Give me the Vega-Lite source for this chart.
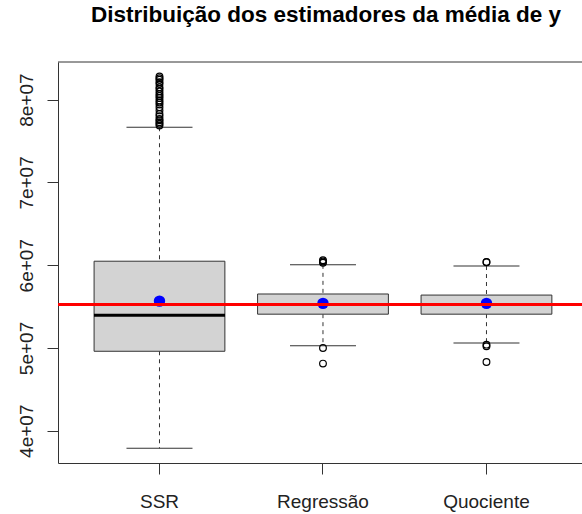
{
  "$schema": "https://vega.github.io/schema/vega-lite/v6.json",
  "width": 524,
  "height": 401,
  "autosize": {"type": "none"},
  "padding": {"left": 58, "top": 62, "right": 0, "bottom": 51},
  "background": "white",
  "title": {
    "text": "Distribuição dos estimadores da média de y",
    "font": "Liberation Sans",
    "fontSize": 22.5,
    "fontWeight": "bold",
    "color": "black",
    "anchor": "middle",
    "baseline": "alphabetic",
    "offset": 17,
    "dx": 6
  },
  "config": {
    "view": {"stroke": null},
    "axis": {
      "grid": false,
      "title": null,
      "domainColor": "#333",
      "tickColor": "#333",
      "labelColor": "#222",
      "labelFont": "Liberation Sans",
      "labelFontSize": 19,
      "tickSize": 11
    }
  },
  "datasets": {
    "caixas": [
      {"grupo": "SSR", "lim_inf": 37870000, "q1": 49600000, "mediana": 53940000, "q3": 60480000, "lim_sup": 76670000, "media": 55660000},
      {"grupo": "Regressão", "lim_inf": 50280000, "q1": 54080000, "mediana": 55265000, "q3": 56520000, "lim_sup": 60040000, "media": 55390000},
      {"grupo": "Quociente", "lim_inf": 50600000, "q1": 54080000, "mediana": 55265000, "q3": 56390000, "lim_sup": 59900000, "media": 55390000}
    ],
    "atipicos": [
      {"grupo": "SSR", "valor": 82810000},
      {"grupo": "SSR", "valor": 82600000},
      {"grupo": "SSR", "valor": 82410000},
      {"grupo": "SSR", "valor": 82100000},
      {"grupo": "SSR", "valor": 81890000},
      {"grupo": "SSR", "valor": 81500000},
      {"grupo": "SSR", "valor": 81290000},
      {"grupo": "SSR", "valor": 81000000},
      {"grupo": "SSR", "valor": 80690000},
      {"grupo": "SSR", "valor": 80450000},
      {"grupo": "SSR", "valor": 80200000},
      {"grupo": "SSR", "valor": 79900000},
      {"grupo": "SSR", "valor": 79670000},
      {"grupo": "SSR", "valor": 79400000},
      {"grupo": "SSR", "valor": 79070000},
      {"grupo": "SSR", "valor": 78700000},
      {"grupo": "SSR", "valor": 78280000},
      {"grupo": "SSR", "valor": 78000000},
      {"grupo": "SSR", "valor": 77670000},
      {"grupo": "SSR", "valor": 77500000},
      {"grupo": "SSR", "valor": 77270000},
      {"grupo": "SSR", "valor": 77100000},
      {"grupo": "SSR", "valor": 76870000},
      {"grupo": "Regressão", "valor": 60600000},
      {"grupo": "Regressão", "valor": 60450000},
      {"grupo": "Regressão", "valor": 60300000},
      {"grupo": "Regressão", "valor": 50000000},
      {"grupo": "Regressão", "valor": 48110000},
      {"grupo": "Quociente", "valor": 60400000},
      {"grupo": "Quociente", "valor": 60350000},
      {"grupo": "Quociente", "valor": 50400000},
      {"grupo": "Quociente", "valor": 50200000},
      {"grupo": "Quociente", "valor": 48310000}
    ],
    "referencia": [{"media_real": 55265000}]
  },
  "layer": [
    {
      "data": {"name": "caixas"},
      "mark": {"type": "rule", "strokeDash": [4, 4], "color": "#333", "strokeWidth": 1},
      "encoding": {
        "x": {
          "field": "grupo", "type": "nominal", "sort": ["SSR", "Regressão", "Quociente"],
          "scale": {"type": "band", "paddingInner": 0.2, "paddingOuter": 0.2025, "align": 0.545},
          "axis": {"orient": "bottom", "domain": true, "ticks": true, "bandPosition": 0.5, "labelAngle": 0, "labelBaseline": "alphabetic", "labelPadding": 33}
        },
        "y": {
          "field": "lim_sup", "type": "quantitative",
          "scale": {"domain": [36100000, 84550000], "nice": false, "zero": false},
          "axis": {"orient": "left", "values": [40000000, 50000000, 60000000, 70000000, 80000000], "labelExpr": "(datum.value / 1e7) + 'e+07'", "labelAngle": 270, "labelAlign": "center", "labelBaseline": "alphabetic", "labelPadding": 15, "domain": true}
        },
        "y2": {"field": "q3"}
      }
    },
    {
      "data": {"name": "caixas"},
      "mark": {"type": "rule", "strokeDash": [4, 4], "color": "#333", "strokeWidth": 1},
      "encoding": {
        "x": {"field": "grupo", "type": "nominal", "sort": ["SSR", "Regressão", "Quociente"]},
        "y": {"field": "q1", "type": "quantitative"},
        "y2": {"field": "lim_inf"}
      }
    },
    {
      "data": {"name": "caixas"},
      "mark": {"type": "tick", "orient": "horizontal", "size": 66, "thickness": 1, "color": "#333", "opacity": 1},
      "encoding": {
        "x": {"field": "grupo", "type": "nominal", "sort": ["SSR", "Regressão", "Quociente"]},
        "y": {"field": "lim_sup", "type": "quantitative"}
      }
    },
    {
      "data": {"name": "caixas"},
      "mark": {"type": "tick", "orient": "horizontal", "size": 66, "thickness": 1, "color": "#333", "opacity": 1},
      "encoding": {
        "x": {"field": "grupo", "type": "nominal", "sort": ["SSR", "Regressão", "Quociente"]},
        "y": {"field": "lim_inf", "type": "quantitative"}
      }
    },
    {
      "data": {"name": "caixas"},
      "mark": {"type": "bar", "fill": "#D3D3D3", "stroke": "#333", "strokeWidth": 1},
      "encoding": {
        "x": {"field": "grupo", "type": "nominal", "sort": ["SSR", "Regressão", "Quociente"]},
        "y": {"field": "q1", "type": "quantitative"},
        "y2": {"field": "q3"}
      }
    },
    {
      "data": {"name": "caixas"},
      "mark": {"type": "tick", "orient": "horizontal", "size": 131, "thickness": 3, "color": "black", "opacity": 1},
      "encoding": {
        "x": {"field": "grupo", "type": "nominal", "sort": ["SSR", "Regressão", "Quociente"]},
        "y": {"field": "mediana", "type": "quantitative"}
      }
    },
    {
      "data": {"name": "atipicos"},
      "mark": {"type": "point", "shape": "circle", "filled": false, "size": 45, "strokeWidth": 1.2, "color": "black", "opacity": 1},
      "encoding": {
        "x": {"field": "grupo", "type": "nominal", "sort": ["SSR", "Regressão", "Quociente"]},
        "y": {"field": "valor", "type": "quantitative"}
      }
    },
    {
      "data": {"name": "caixas"},
      "mark": {"type": "point", "shape": "circle", "filled": true, "size": 130, "color": "blue", "opacity": 1},
      "encoding": {
        "x": {"field": "grupo", "type": "nominal", "sort": ["SSR", "Regressão", "Quociente"]},
        "y": {"field": "media", "type": "quantitative"}
      }
    },
    {
      "data": {"name": "referencia"},
      "mark": {"type": "rule", "color": "red", "strokeWidth": 3},
      "encoding": {
        "y": {"field": "media_real", "type": "quantitative"}
      }
    },
    {
      "data": {"name": "referencia"},
      "mark": {"type": "rule", "color": "#333", "strokeWidth": 1},
      "encoding": {
        "y": {"datum": 84550000, "type": "quantitative"}
      }
    }
  ]
}
